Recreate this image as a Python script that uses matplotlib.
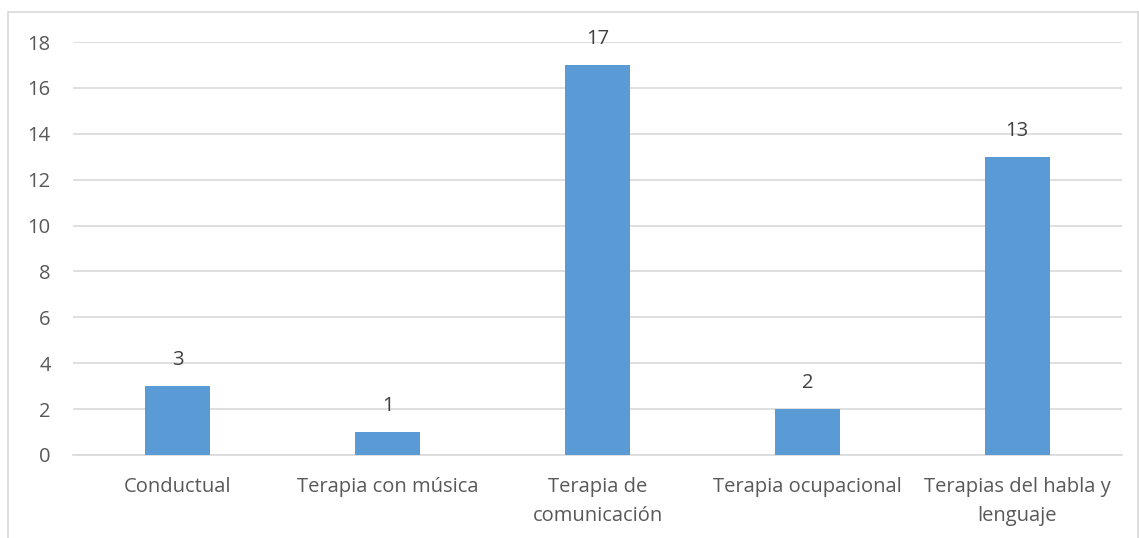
import matplotlib.pyplot as plt
from matplotlib.patches import Rectangle

# therapy types and how many times each was reported
categories = ['Conductual', 'Terapia con música', 'Terapia de\ncomunicación',
              'Terapia ocupacional', 'Terapias del habla y\nlenguaje']
counts = [3, 1, 17, 2, 13]
yticks = [0, 2, 4, 6, 8, 10, 12, 14, 16, 18]

plt.rcParams['font.family'] = ['Open Sans', 'DejaVu Sans']
text_color = '#595959'
bar_color = '#5B9BD5'
fsize = 14.5

W, H = 1139, 538
fig = plt.figure(figsize=(W / 100, H / 100), dpi=100)

# chart frame (bottom edge runs off the canvas)
fig.patches.append(Rectangle((8 / W, -0.05), (1138 - 8) / W, 1.05 - 12 / H,
                             transform=fig.transFigure, fill=False,
                             edgecolor='#D9D9D9', linewidth=1.2))

ax = fig.add_axes([73 / W, 1 - 455 / H, (1122 - 73) / W, (455 - 42) / H])
x = range(len(categories))
bars = ax.bar(x, counts, width=0.31, color=bar_color, zorder=3)

for b, v in zip(bars, counts):
    ax.text(b.get_x() + b.get_width() / 2, v + 0.7, str(v),
            ha='center', va='bottom', fontsize=fsize, color='#404040')

ax.set_xlim(-0.5, len(categories) - 0.5)
ax.set_ylim(0, 18)
ax.set_yticks(yticks)
ax.set_xticks(list(x))
ax.set_xticklabels(categories, fontsize=fsize, color=text_color, linespacing=1.6)
ax.tick_params(axis='y', labelsize=fsize, labelcolor=text_color, length=0, pad=16)
ax.tick_params(axis='x', length=0, pad=16)
ax.grid(axis='y', color='#D9D9D9', linewidth=1.2, zorder=0)
for s in ['top', 'right', 'left']:
    ax.spines[s].set_visible(False)
ax.spines['bottom'].set_color('#D9D9D9')
ax.spines['bottom'].set_linewidth(1.2)

fig.savefig('out.png', dpi=100)
